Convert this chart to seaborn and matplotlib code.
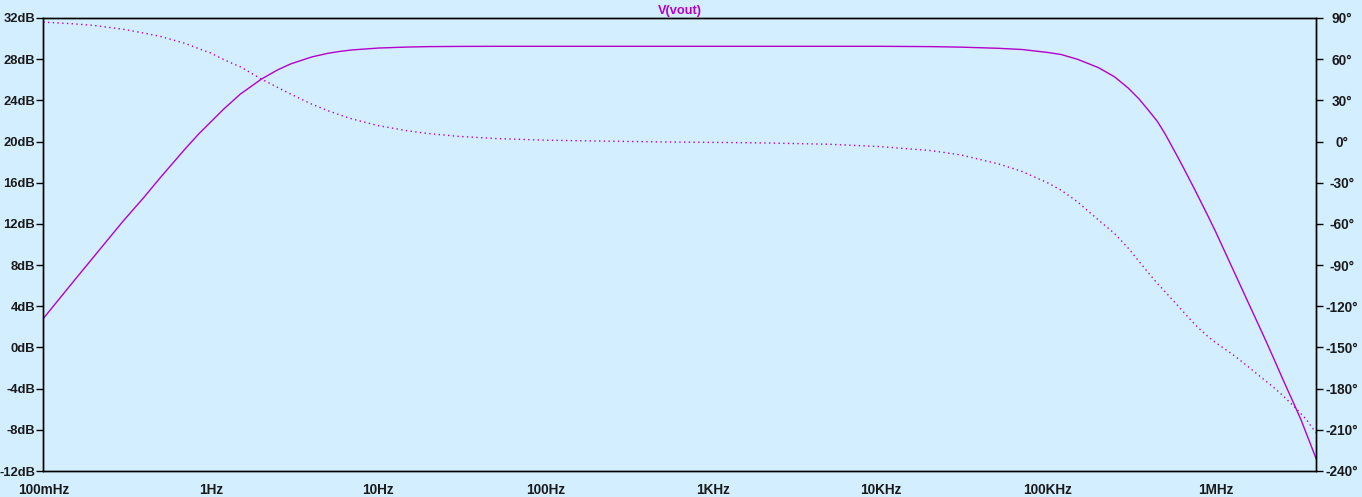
import matplotlib
matplotlib.use("Agg")
import matplotlib.pyplot as plt
import matplotlib.ticker as mticker
import seaborn as sns
import pandas as pd

# ---- data ----
freq_hz = [0.1, 0.15, 0.2, 0.3, 0.4, 0.5, 0.7, 0.85, 1, 1.2, 1.5, 2, 2.5, 3, 4, 5, 6, 7, 10, 15,
           20, 30, 50, 100, 200, 500, 1e3, 2e3, 5e3, 1e4, 2e4, 3e4, 5e4, 7e4, 1e5, 1.2e5, 1.5e5,
           2e5, 2.5e5, 3e5, 3.5e5, 4e5, 4.5e5, 5e5, 5.5e5, 6e5, 6.5e5, 7e5, 7.5e5, 8e5, 9e5,
           1e6, 1.1e6, 1.25e6, 1.4e6, 1.6e6, 1.8e6, 2e6, 2.25e6, 2.5e6, 2.75e6, 3e6, 3.25e6,
           3.5e6, 3.75e6, 4e6]
magnitude_db = [2.81, 6.33, 8.80, 12.28, 14.60, 16.50, 19.25, 20.76, 21.90, 23.18, 24.60, 26.05,
                26.95, 27.54, 28.21, 28.57, 28.77, 28.90, 29.08, 29.18, 29.22, 29.24, 29.25,
                29.25, 29.25, 29.25, 29.25, 29.25, 29.25, 29.25, 29.22, 29.17, 29.06, 28.94,
                28.65, 28.45, 27.99, 27.18, 26.28, 25.22, 24.13, 22.99, 21.95, 20.75, 19.52,
                18.39, 17.32, 16.31, 15.37, 14.46, 12.80, 11.27, 9.81, 7.85, 6.11, 4.06, 2.26,
                0.64, -1.23, -2.93, -4.43, -5.79, -7.07, -8.42, -9.67, -10.84]
phase_deg = [87.0, 85.8, 84.6, 81.8, 79.0, 76.6, 71.6, 67.6, 64.5, 59.6, 54.5, 45.6, 39.5, 34.6,
             27.3, 22.5, 19.1, 16.4, 11.6, 7.8, 5.8, 3.8, 2.2, 1.0, 0.4, -0.3, -0.6, -1.0, -2.0,
             -3.7, -6.6, -9.7, -16.1, -21.8, -30.2, -35.5, -43.9, -57.1, -67.1, -77.4, -87.4,
             -96.0, -103.4, -109.4, -114.9, -120.0, -124.7, -129.0, -132.9, -136.3, -142.0,
             -146.4, -149.9, -154.6, -159.2, -164.9, -170.0, -174.5, -179.6, -184.6, -189.4,
             -194.0, -198.5, -202.6, -208.0, -212.0]

x_ticks = [0.1, 1, 10, 100, 1e3, 1e4, 1e5, 1e6]
x_tick_labels = ["100mHz", "1Hz", "10Hz", "100Hz", "1KHz", "10KHz", "100KHz", "1MHz"]
db_ticks = [32, 28, 24, 20, 16, 12, 8, 4, 0, -4, -8, -12]
db_tick_labels = ["32dB", "28dB", "24dB", "20dB", "16dB", "12dB", "8dB", "4dB", "0dB",
                  "-4dB", "-8dB", "-12dB"]
deg_ticks = [90, 60, 30, 0, -30, -60, -90, -120, -150, -180, -210, -240]
deg_tick_labels = ["90°", "60°", "30°", "0°", "-30°", "-60°", "-90°", "-120°", "-150°",
                   "-180°", "-210°", "-240°"]
title = "V(vout)"

df = pd.DataFrame({"freq": freq_hz, "mag": magnitude_db, "phase": phase_deg})

# ---- style ----
sns.set_style("white")
bg = "#D3EFFF"
trace = "#B400C8"
plt.rcParams["font.family"] = ["Liberation Sans", "DejaVu Sans"]
plt.rcParams["font.weight"] = "bold"

W, H = 1362, 497
fig = plt.figure(figsize=(W / 100, H / 100), dpi=100, facecolor=bg)
L, R, T, B = 43.3, 1316.3, 18, 471
ax = fig.add_axes([L / W, (H - B) / H, (R - L) / W, (B - T) / H])
ax.set_facecolor(bg)
ax2 = ax.twinx()

sns.lineplot(data=df, x="freq", y="mag", ax=ax, color=trace, linewidth=1.0,
             legend=False, estimator=None, sort=False)
sns.lineplot(data=df, x="freq", y="phase", ax=ax2, color=trace, linewidth=1.0,
             linestyle=(0, (1.0, 2.4)), legend=False, estimator=None, sort=False)

ax.set_xscale("log")
ax.set_xlim(0.1, 4e6)
ax.set_ylim(-12, 32)
ax2.set_ylim(-240, 90)

ax.set_xticks(x_ticks)
ax.set_xticklabels(x_tick_labels)
ax.xaxis.set_minor_locator(mticker.LogLocator(base=10, subs=range(2, 10), numticks=100))
ax.xaxis.set_minor_formatter(mticker.NullFormatter())
ax.set_yticks(db_ticks)
ax.set_yticklabels(db_tick_labels)
ax2.set_yticks(deg_ticks)
ax2.set_yticklabels(deg_tick_labels)

ax.set_xlabel("")
ax.set_ylabel("")
ax2.set_ylabel("")

fs = 9.8
for a in (ax, ax2):
    for s in a.spines.values():
        s.set_color("black")
        s.set_linewidth(1.0)
ax.tick_params(axis="x", which="major", direction="out", length=5, width=1.0, pad=4,
               labelsize=fs, colors="black")
ax.tick_params(axis="x", which="minor", direction="out", length=2.5, width=1.0)
ax.tick_params(axis="y", which="major", direction="out", length=5, width=1.0, pad=0.8,
               labelsize=9.4, colors="black")
ax2.tick_params(axis="y", which="major", direction="out", length=5, width=1.0, pad=13.5,
                labelsize=fs, colors="black")
for lab in ax.get_xticklabels() + ax.get_yticklabels() + ax2.get_yticklabels():
    lab.set_fontweight("bold")
    lab.set_color("#1a1a1a")
for lab in ax2.get_yticklabels():
    lab.set_horizontalalignment("center")

ax.set_title(title, color=trace, fontsize=9.2, fontweight="bold", pad=3)

fig.savefig("out.png", dpi=100, facecolor=bg)
